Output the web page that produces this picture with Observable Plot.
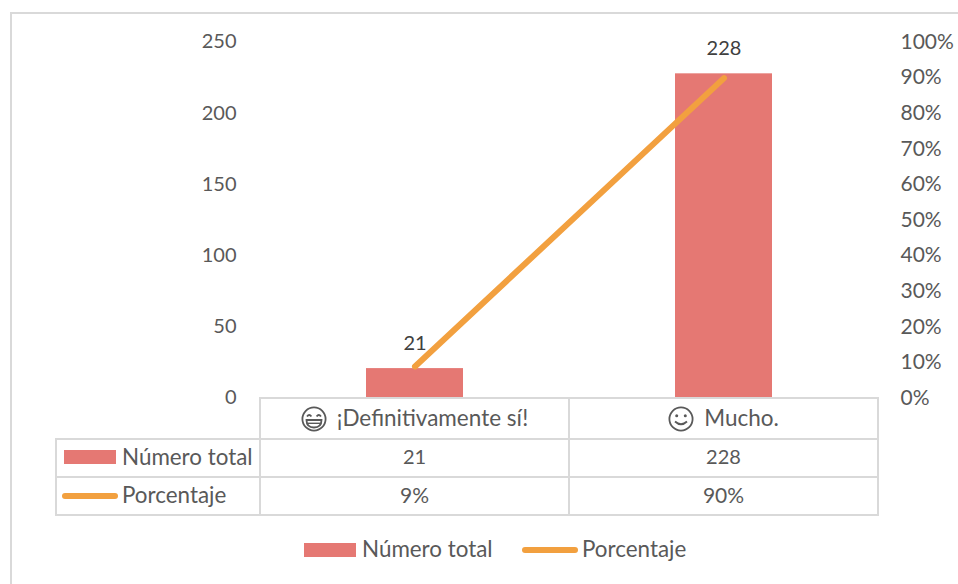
<!DOCTYPE html>
<html>
<head>
<meta charset="utf-8">
<script src="https://cdn.jsdelivr.net/npm/d3@7"></script>
<script src="https://cdn.jsdelivr.net/npm/@observablehq/plot@0.6"></script>
<style>
html,body{margin:0;padding:0;background:#fff;width:958px;height:584px;overflow:hidden;font-family:Lato,sans-serif;color:#595959;}
#frame{position:absolute;left:10px;top:12px;width:1000px;height:700px;border:2px solid #d9d9d9;box-sizing:border-box;}
#chart{position:absolute;left:0;top:0;}
#chart svg{display:block;background:transparent;}
table{position:absolute;left:55px;top:396.5px;border-collapse:collapse;table-layout:fixed;width:822px;font-size:20px;}
td{border:2px solid #d9d9d9;padding:0 0 3px 0;text-align:center;height:38px;box-sizing:border-box;white-space:nowrap;}
td.blank{border-top:none;border-left:none;}
td.name{position:relative;text-align:left;padding-left:65px;font-size:22.4px;}
tr.head td{height:41px;font-size:22.5px;padding-bottom:0;}
.pct{font-size:21px;}
.sw{position:absolute;display:block;}
.bar{background:#E57873;width:52px;height:14px;}
.ln{background:#F2A03F;width:56px;height:6px;border-radius:3px;}
svg.icon{vertical-align:-6px;margin-right:10px;}
#legend{position:absolute;top:0;left:0;font-size:22.4px;}
#legend span.t{position:absolute;top:535px;white-space:nowrap;}
</style>
</head>
<body>
<div id="frame"></div>
<div id="chart"></div>
<table id="tbl"></table>
<div id="legend"></div>
<script>
const categories = ["¡Definitivamente sí!", "Mucho."];
const totals = [21, 228];
const percents = [9, 90];
const countTicks = [0, 50, 100, 150, 200, 250];
const percentTicks = [0, 10, 20, 30, 40, 50, 60, 70, 80, 90, 100];
const seriesNames = ["Número total", "Porcentaje"];
const barColor = "#E57873";
const lineColor = "#F2A03F";

const perPercent = 2.5; // secondary axis 0–100% shares the 0–250 scale

const chart = Plot.plot({
  width: 958,
  height: 412,
  marginLeft: 260,
  marginRight: 80,
  marginTop: 42,
  marginBottom: 14,
  style: {background: "transparent", fontFamily: "Lato, sans-serif", fontSize: "20px", color: "#595959", overflow: "visible"},
  x: {domain: categories, axis: null, paddingInner: 0.686, paddingOuter: 0.343},
  y: {domain: [0, 250], axis: null},
  marks: [
    Plot.barY(categories, {x: d => d, y: (d, i) => totals[i], fill: barColor}),
    Plot.line(categories, {x: d => d, y: (d, i) => percents[i] * perPercent, stroke: lineColor, strokeWidth: 6, strokeLinecap: "round"}),
    Plot.text(categories, {x: d => d, y: (d, i) => totals[i], text: (d, i) => String(totals[i]), dy: -25, fill: "#404040", fontSize: 20}),
    Plot.axisY(countTicks, {anchor: "left", tickSize: 0, tickPadding: 24, dy: -0.5, label: null, fontSize: 20, fill: "#595959"}),
    Plot.axisY(percentTicks.map(p => p * perPercent), {anchor: "right", tickSize: 0, tickPadding: 22, dy: -0.5, label: null, fontSize: 21, fill: "#595959", tickFormat: v => Math.round(v / perPercent) + "%"})
  ]
});
document.getElementById("chart").append(chart);

const iconHappy = '<svg class="icon" width="26" height="26" viewBox="0 0 26 26" fill="none" stroke="#595959" stroke-width="1.8"><circle cx="13" cy="13" r="11.6"/><path d="M6 10.5q2.2-3 4.4 0M15.6 10.5q2.2-3 4.4 0"/><path d="M5.5 14h15q0 7.5-7.5 7.5T5.5 14z"/><path d="M6 17.3h14" stroke-width="1.4"/></svg>';
const iconSmile = '<svg class="icon" width="26" height="26" viewBox="0 0 26 26" fill="none" stroke="#595959" stroke-width="1.8"><circle cx="13" cy="13" r="11.6"/><circle cx="8.7" cy="9.7" r="1.5" fill="#595959" stroke="none"/><circle cx="17.3" cy="9.7" r="1.5" fill="#595959" stroke="none"/><path d="M7 15.5q6 5.5 12 0"/></svg>';
const icons = [iconHappy, iconSmile];

document.getElementById("tbl").innerHTML =
  '<colgroup><col style="width:204px"><col style="width:309px"><col style="width:309px"></colgroup>' +
  '<tr class="head"><td class="blank"></td>' + categories.map((c, i) => `<td>${icons[i]}${c}</td>`).join("") + '</tr>' +
  `<tr><td class="name"><span class="sw bar" style="left:7px;top:10px"></span>${seriesNames[0]}</td>` + totals.map(v => `<td>${v}</td>`).join("") + '</tr>' +
  `<tr><td class="name"><span class="sw ln" style="left:5px;top:15px"></span>${seriesNames[1]}</td>` + percents.map(v => `<td class="pct">${v}%</td>`).join("") + '</tr>';

document.getElementById("legend").innerHTML =
  '<span class="sw bar" style="left:304px;top:543px"></span>' +
  `<span class="t" style="left:362px">${seriesNames[0]}</span>` +
  '<span class="sw ln" style="left:522px;top:547px"></span>' +
  `<span class="t" style="left:582px">${seriesNames[1]}</span>`;
</script>
</body>
</html>
